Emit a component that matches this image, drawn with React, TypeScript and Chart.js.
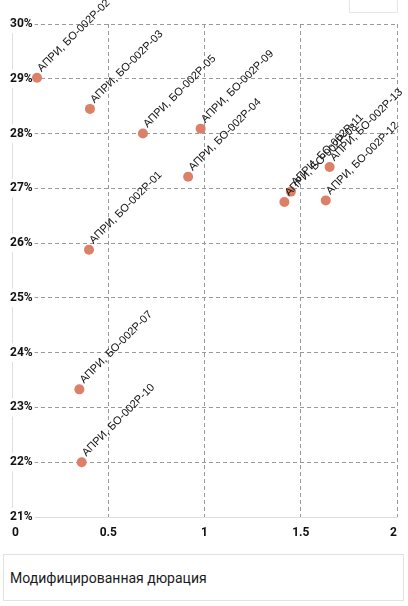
import React, { useEffect, useRef } from 'react';
import { Chart, ChartConfiguration, Plugin, registerables } from 'chart.js';

Chart.register(...registerables);

// bond issues: name, modified duration (x), yield % (y)
const bondNames = [
  'АПРИ, БО-002Р-01',
  'АПРИ, БО-002Р-02',
  'АПРИ, БО-002Р-03',
  'АПРИ, БО-002Р-04',
  'АПРИ, БО-002Р-05',
  'АПРИ, БО-002Р-07',
  'АПРИ, БО-002Р-08',
  'АПРИ, БО-002Р-09',
  'АПРИ, БО-002Р-10',
  'АПРИ, БО-002Р-11',
  'АПРИ, БО-002Р-12',
  'АПРИ, БО-002Р-13',
];
const durations = [0.4, 0.13, 0.405, 0.915, 0.68, 0.35, 1.415, 0.98, 0.362, 1.449, 1.63, 1.65];
const yields = [25.88, 29.02, 28.45, 27.21, 28.0, 23.33, 26.75, 28.09, 22.0, 26.94, 26.78, 27.39];

const xTicks = { min: 0, max: 2, step: 0.5 };
const yTicks = { min: 21, max: 30, step: 1 };

const pointLabels: Plugin<'scatter'> = {
  id: 'pointLabels',
  afterDatasetsDraw(chart) {
    const ctx = chart.ctx;
    const meta = chart.getDatasetMeta(0);
    ctx.save();
    ctx.font = '11px "Liberation Sans", Arial, sans-serif';
    ctx.fillStyle = '#111';
    ctx.textAlign = 'left';
    ctx.textBaseline = 'alphabetic';
    meta.data.forEach((el, i) => {
      ctx.save();
      ctx.translate(el.x + 4.5, el.y - 5.5);
      ctx.rotate(-Math.PI / 4);
      ctx.fillText(bondNames[i], 0, 0);
      ctx.restore();
    });
    ctx.restore();
  },
};

const tickFont = { family: 'Roboto', size: 12, weight: 'bold' as const };

const App: React.FC = () => {
  const canvasRef = useRef<HTMLCanvasElement>(null);
  const chartRef = useRef<Chart | null>(null);

  useEffect(() => {
    document.body.style.margin = '0';
    if (!canvasRef.current) return;
    const ctx = canvasRef.current.getContext('2d');
    if (!ctx) return;
    if (chartRef.current) chartRef.current.destroy();

    const config: ChartConfiguration<'scatter'> = {
      type: 'scatter',
      data: {
        labels: bondNames,
        datasets: [
          {
            label: '',
            data: durations.map((d, i) => ({ x: d, y: yields[i] })),
            backgroundColor: '#dc8168',
            borderColor: '#dc8168',
            borderWidth: 0,
            pointRadius: 5,
            clip: false as any,
          },
        ],
      },
      options: {
        animation: false,
        responsive: false,
        maintainAspectRatio: false,
        layout: { padding: { left: 12, right: 11, top: 24, bottom: 0 } },
        plugins: {
          legend: { display: false },
          tooltip: { enabled: false },
        },
        scales: {
          x: {
            type: 'linear',
            min: xTicks.min,
            max: xTicks.max,
            afterFit: (axis) => {
              axis.height = 31;
            },
            ticks: {
              stepSize: xTicks.step,
              align: 'inner',
              padding: 9,
              color: '#111',
              font: tickFont,
              maxRotation: 0,
              callback: (v) => `${v}`,
            },
            grid: {
              z: -1,
              drawTicks: false,
              color: (c) => (c.index === 0 ? 'rgba(0,0,0,0)' : '#9a9a9a'),
            },
            border: { display: true, color: '#dedede', dash: [4, 3] },
          },
          y: {
            type: 'linear',
            min: yTicks.min,
            max: yTicks.max,
            afterFit: (axis) => {
              axis.width = 0;
            },
            ticks: {
              stepSize: yTicks.step,
              mirror: true,
              padding: -2,
              color: '#111',
              font: tickFont,
              callback: (v) => `${v}%`,
              showLabelBackdrop: true,
              backdropColor: '#ffffff',
              backdropPadding: 2,
            },
            grid: {
              drawTicks: false,
              color: (c) => (c.index === 0 ? 'rgba(0,0,0,0)' : '#9a9a9a'),
            },
            border: { display: true, color: '#dedede', dash: [4, 3] },
          },
        },
      },
      plugins: [pointLabels],
    };

    chartRef.current = new Chart(ctx, config);
    return () => {
      if (chartRef.current) {
        chartRef.current.destroy();
        chartRef.current = null;
      }
    };
  }, []);

  return (
    <div style={{ position: 'relative', width: 408, height: 606, overflow: 'hidden', background: '#fff' }}>
      <canvas ref={canvasRef} width={408} height={548} style={{ position: 'absolute', left: 0, top: 0, width: 408, height: 548 }} />
      <div
        style={{
          position: 'absolute',
          left: 349,
          top: -10,
          width: 49,
          height: 23,
          boxSizing: 'border-box',
          border: '1px solid #e6e6e6',
          background: '#fff',
        }}
      />
      <div
        style={{
          position: 'absolute',
          left: 3,
          top: 554,
          width: 401,
          height: 47,
          boxSizing: 'border-box',
          border: '1px solid #e2e2e2',
          paddingLeft: 6,
          display: 'flex',
          alignItems: 'center',
          fontFamily: 'Roboto, sans-serif',
          fontSize: 14,
          color: '#1a1a1a',
        }}
      >
        Модифицированная дюрация
      </div>
    </div>
  );
};

export default App;
